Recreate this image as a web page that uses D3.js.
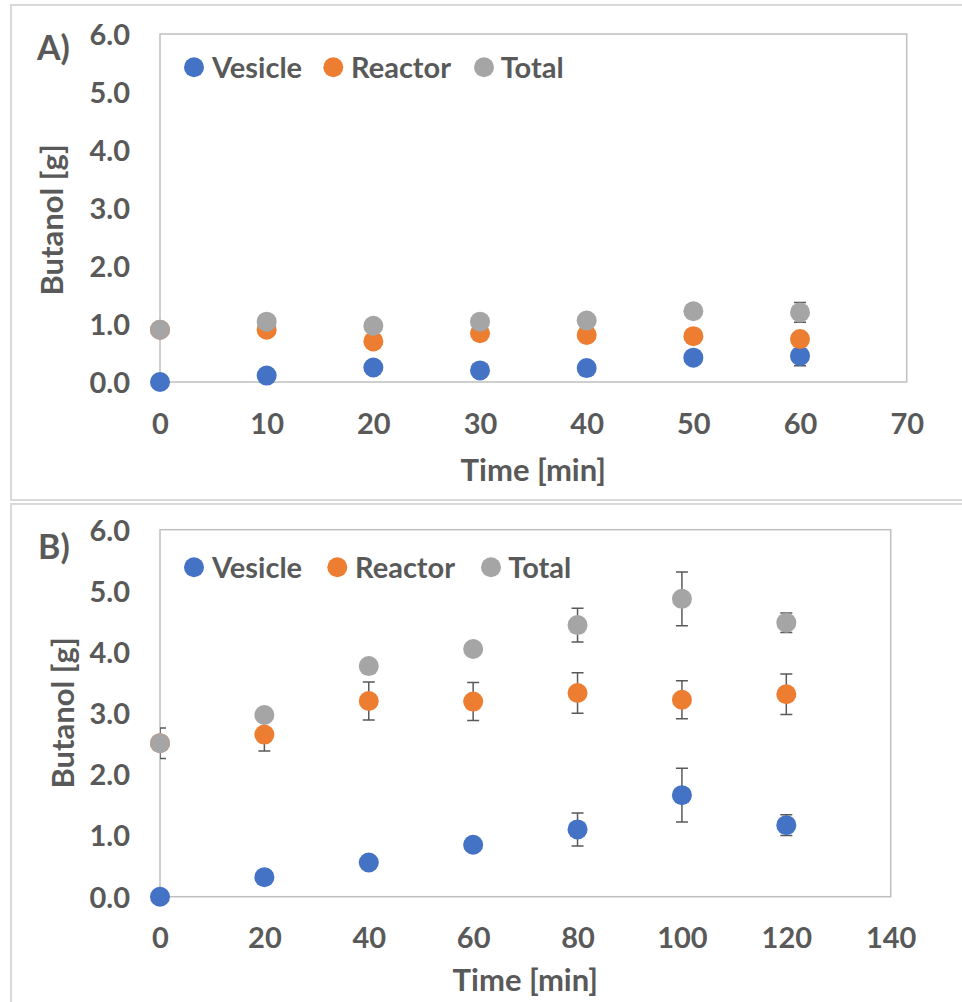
<!DOCTYPE html>
<html><head><meta charset="utf-8">
<script src="https://cdn.jsdelivr.net/npm/d3@7"></script>
<style>
html,body{margin:0;padding:0;background:#fff;}
text{font-family:Lato,"Open Sans",sans-serif;font-weight:700;fill:#595959;}
</style></head>
<body>
<svg id="chart" width="962" height="1002"></svg>
<script>
const seriesNames = ["Vesicle","Reactor","Total"];
const seriesColors = ["#4472C4","#ED7D31","#A5A5A5"];
const yTicks = [0,1,2,3,4,5,6];

const timesA = [0,10,20,30,40,50,60];
const xTicksA = [0,10,20,30,40,50,60,70];
const vesicleA = [0.00,0.11,0.25,0.20,0.24,0.42,0.45];
const vesicleAErr = [0,0,0,0,0,0,0.17];
const reactorA = [0.90,0.90,0.70,0.84,0.81,0.79,0.74];
const reactorAErr = [0,0,0,0,0,0,0];
const totalA = [0.90,1.04,0.97,1.04,1.06,1.22,1.20];
const totalAErr = [0,0,0,0,0,0,0.17];

const timesB = [0,20,40,60,80,100,120];
const xTicksB = [0,20,40,60,80,100,120,140];
const vesicleB = [0.00,0.32,0.56,0.85,1.10,1.66,1.17];
const vesicleBErr = [0,0,0,0,0.27,0.44,0.17];
const reactorB = [2.51,2.65,3.20,3.19,3.33,3.22,3.31];
const reactorBErr = [0,0.27,0.31,0.31,0.33,0.31,0.33];
const totalB = [2.51,2.97,3.77,4.05,4.44,4.87,4.48];
const totalBErr = [0.25,0,0,0,0.275,0.44,0.16];

const svg = d3.select("#chart");

function panel(cfg){
  const g = svg.append("g");
  g.append("rect").attr("x",cfg.frame[0]).attr("y",cfg.frame[1])
    .attr("width",cfg.frame[2]).attr("height",cfg.frame[3])
    .attr("fill","none").attr("stroke","#d9d9d9").attr("stroke-width",2);
  const x = d3.scaleLinear().domain([cfg.xTicks[0], d3.max(cfg.xTicks)]).range([cfg.left,cfg.right]);
  const y = d3.scaleLinear().domain([0,6]).range([cfg.bottom,cfg.top]);
  g.append("rect").attr("x",cfg.left).attr("y",cfg.top)
    .attr("width",cfg.right-cfg.left).attr("height",cfg.bottom-cfg.top)
    .attr("fill","none").attr("stroke","#bfbfbf").attr("stroke-width",1.5);
  const ya = g.append("g").attr("transform",`translate(${cfg.left},0)`)
    .call(d3.axisLeft(y).tickValues(yTicks).tickFormat(d3.format(".1f")).tickSize(0).tickPadding(30));
  ya.select(".domain").remove();
  ya.selectAll("text").attr("font-size",29).style("font-family","Lato").style("font-weight",700).attr("fill","#595959").attr("dy","0.36em");
  const xa = g.append("g").attr("transform",`translate(0,${cfg.bottom})`)
    .call(d3.axisBottom(x).tickValues(cfg.xTicks).tickFormat(d3.format("d")).tickSize(0).tickPadding(0));
  xa.select(".domain").remove();
  xa.selectAll("text").attr("font-size",29).style("font-family","Lato").style("font-weight",700).attr("fill","#595959")
    .attr("y",cfg.xLabelOff).attr("dy","0.36em");
  g.append("text").attr("x",(cfg.left+cfg.right)/2 + cfg.xTitleShift).attr("y",cfg.xTitleY).attr("text-anchor","middle")
    .attr("dy","0.36em").attr("font-size",31).text("Time [min]");
  g.append("text").attr("transform",`translate(${cfg.yTitleX},${cfg.yTitleY}) rotate(-90)`)
    .attr("text-anchor","middle").attr("dy","0.36em").attr("font-size",31).text("Butanol [g]");
  g.append("text").attr("x",cfg.labelX).attr("y",cfg.labelY).attr("font-size",34).text(cfg.label);

  const clipId = "clip"+cfg.label.replace(/\W/g,"");
  g.append("clipPath").attr("id",clipId).append("rect")
    .attr("x",cfg.left).attr("y",cfg.top).attr("width",cfg.right-cfg.left).attr("height",cfg.bottom-cfg.top);

  const series = cfg.series;
  const eg = g.append("g").attr("clip-path",`url(#${clipId})`);
  series.forEach(s=>{
    cfg.times.forEach((t,i)=>{
      const e = s.err[i]; if(!e) return;
      const cx = x(t), y1 = y(s.vals[i]+e), y2 = y(s.vals[i]-e);
      eg.append("line").attr("x1",cx).attr("x2",cx).attr("y1",y1).attr("y2",y2).attr("stroke","#595959").attr("stroke-width",1.5);
      [y1,y2].forEach(yy=>eg.append("line").attr("x1",cx-6).attr("x2",cx+6).attr("y1",yy).attr("y2",yy).attr("stroke","#595959").attr("stroke-width",1.5));
    });
  });
  series.forEach(s=>{
    g.append("g").selectAll("circle").data(cfg.times.map((t,i)=>[t,s.vals[i]])).join("circle")
      .attr("cx",d=>x(d[0])).attr("cy",d=>y(d[1])).attr("r",10).attr("fill",s.color);
  });
  cfg.legend.forEach((lg,i)=>{
    g.append("circle").attr("cx",lg[0]).attr("cy",cfg.legendY).attr("r",10).attr("fill",seriesColors[i]);
    g.append("text").attr("x",lg[1]).attr("y",cfg.legendY).attr("dy","0.36em").attr("font-size",29).text(seriesNames[i]);
  });
}

panel({label:"A)", frame:[11,5,960,495], left:160, right:906.7, top:34, bottom:382,
  xTicks:xTicksA, times:timesA, xLabelOff:42, xTitleY:470, xTitleShift:0, yTitleX:52, yTitleY:220,
  labelX:37, labelY:60, legendY:67.3, legend:[[194,212],[333.3,351],[484,500.7]],
  series:[{vals:vesicleA,err:vesicleAErr,color:seriesColors[0]},{vals:reactorA,err:reactorAErr,color:seriesColors[1]},{vals:totalA,err:totalAErr,color:seriesColors[2]}]});
panel({label:"B)", frame:[11,504,960,510], left:160, right:890.7, top:529.7, bottom:896.7,
  xTicks:xTicksB, times:timesB, xLabelOff:41, xTitleY:980, xTitleShift:0, yTitleX:63, yTitleY:713,
  labelX:38, labelY:559, legendY:567.3, legend:[[194,212],[337.3,355],[491,508.3]],
  series:[{vals:vesicleB,err:vesicleBErr,color:seriesColors[0]},{vals:reactorB,err:reactorBErr,color:seriesColors[1]},{vals:totalB,err:totalBErr,color:seriesColors[2]}]});
</script>
</body></html>
